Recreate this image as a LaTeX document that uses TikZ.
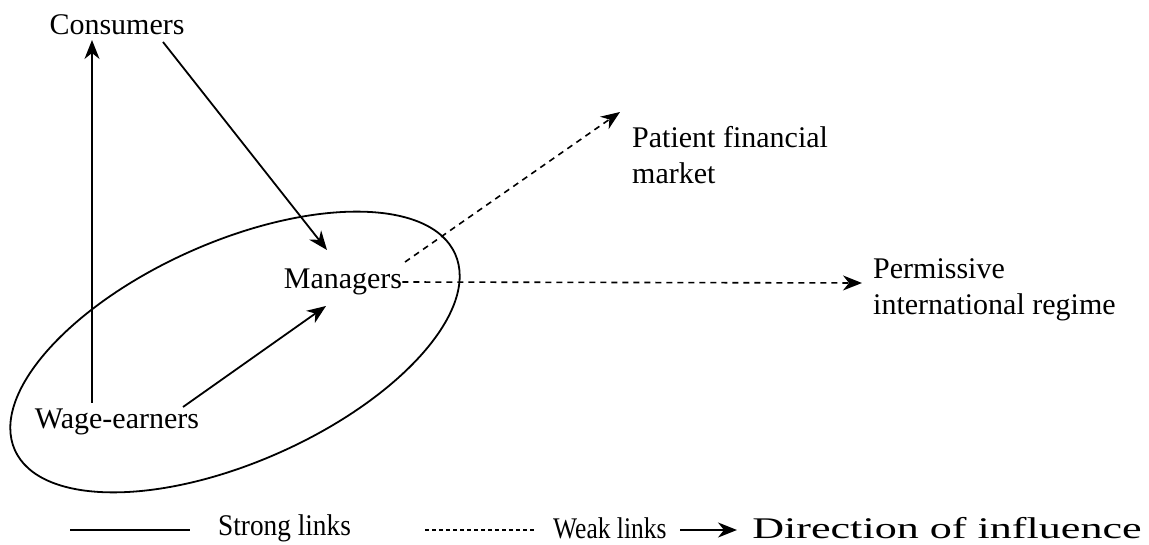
\documentclass[tikz,border=0pt]{standalone}
\usepackage{fontspec}
\setmainfont{Liberation Serif}
\usetikzlibrary{arrows.meta}
\begin{document}
\begin{tikzpicture}[x=1pt,y=-1pt,
  lbl/.style={font=\fontsize{30}{36}\selectfont, inner sep=0pt},
  lbl2/.style={font=\fontsize{30}{36}\selectfont, inner sep=0pt, align=left, anchor=west},
  link/.style={line width=1.8pt},
  weak/.style={line width=1.6pt, dash pattern=on 6pt off 5pt},
  tip/.style={-{Stealth[length=19pt,width=15pt,inset=6pt]}}]
\useasboundingbox (0,0) rectangle (1149,545);
\node[lbl] (cons) at (117,25) {Consumers};
\node[lbl] (man) at (343,282) {Managers};
\node[lbl] (wage) at (117,422) {Wage-earners};
\node[lbl2] (pfm) at (632,155) {Patient financial\\market};
\node[lbl2] (pir) at (873,290) {Permissive\\international regime};
\coordinate (E) at (235,352);
\draw[link, rotate around={24:(E)}] (E) ellipse [x radius=241pt, y radius=110pt];
\draw[link, tip] (wage.north -| 92,0) ++(0,-6) -- (92,40);
\draw[link, tip] (163,42) -- (327,250);
\draw[link, tip] (183,407) -- (326,306);
\draw[weak, tip] (405,262) -- (620,112);
\draw[weak, tip] (man.east) -- (862,283);
% legend
\coordinate (s1) at (70,530);
\coordinate (s2) at (190,530);
\draw[link] (s1) -- (s2);
\node[lbl, anchor=west, xscale=0.91] (sl) at (218,528) {Strong links};
\coordinate (w1) at (425,530);
\coordinate (w2) at (535,530);
\draw[line width=1.3pt, dash pattern=on 4pt off 3pt] (w1) -- (w2);
\node[lbl, anchor=west, xscale=0.85] (wl) at (553,528) {Weak links};
\coordinate (a1) at (680,530);
\coordinate (a2) at (737,530);
\draw[link, tip] (a1) -- (a2);
\node[lbl, anchor=west, xscale=1.47] (dl) at (752,528) {Direction of influence};
\end{tikzpicture}
\end{document}
